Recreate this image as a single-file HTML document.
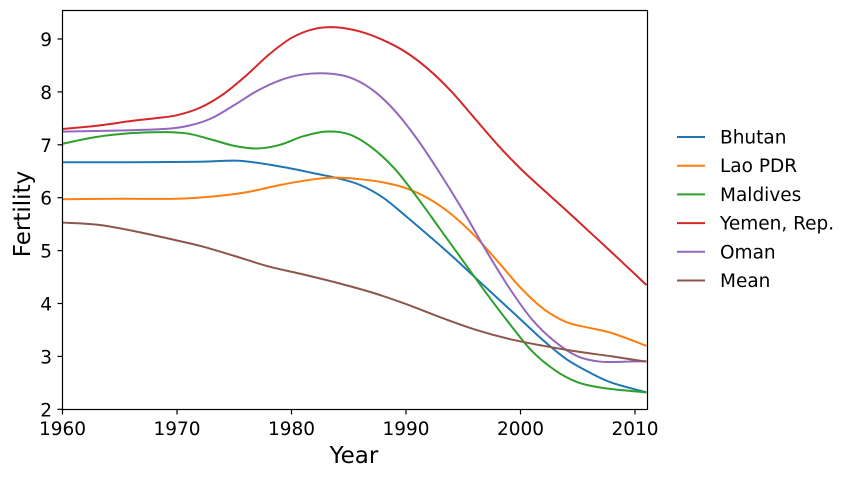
<!DOCTYPE html>
<html><head><meta charset="utf-8"><style>
body{margin:0;background:#fff}
svg{display:block;font-family:"DejaVu Sans","Liberation Sans",sans-serif}
</style></head><body>
<svg id="s" width="856" height="478" xmlns="http://www.w3.org/2000/svg">
<rect width="856" height="478" fill="#fff"/>
<g id="lines" fill="none" stroke-width="2" stroke-linejoin="round"></g>
<rect x="62.5" y="10.5" width="585" height="399" fill="none" stroke="#000" stroke-width="1.2"/>
<g id="ticks" stroke="#000" stroke-width="1.2"></g>
<g id="tl" font-size="18.5" fill="#000"></g>
<text x="354" y="463" font-size="23" text-anchor="middle">Year</text>
<text transform="translate(30,214) rotate(-90)" font-size="23" text-anchor="middle">Fertility</text>
<g id="leg" font-size="18.5"></g>
</svg>
<script>
const X=y=>62.5+(y-1960)*11.45, Y=v=>409.3-(v-2)*52.9;
const S=[
["Bhutan","#1f77b4",[[1960,6.67],[1966,6.67],[1972,6.68],[1975,6.7],[1977,6.66],[1980,6.55],[1982,6.46],[1984,6.37],[1986,6.24],[1988,6.0],[1990,5.65],[1992,5.28],[1994,4.9],[1996,4.5],[1998,4.1],[2000,3.7],[2002,3.3],[2004,2.95],[2006,2.7],[2008,2.5],[2011,2.32]]],
["Lao PDR","#ff7f0e",[[1960,5.97],[1965,5.98],[1970,5.98],[1973,6.02],[1976,6.1],[1979,6.24],[1982,6.35],[1984,6.38],[1986,6.35],[1988,6.29],[1990,6.18],[1992,5.98],[1994,5.68],[1996,5.28],[1998,4.8],[2000,4.3],[2002,3.9],[2004,3.65],[2006,3.54],[2008,3.44],[2011,3.2]]],
["Maldives","#2ca02c",[[1960,7.02],[1963,7.15],[1966,7.22],[1969,7.24],[1971,7.21],[1973,7.1],[1975,6.98],[1977,6.93],[1979,7.0],[1981,7.16],[1983,7.25],[1985,7.2],[1987,6.95],[1989,6.55],[1991,6.0],[1993,5.4],[1995,4.8],[1997,4.2],[1999,3.63],[2001,3.1],[2003,2.74],[2005,2.51],[2007,2.41],[2009,2.36],[2011,2.32]]],
["Yemen, Rep.","#d62728",[[1960,7.3],[1963,7.36],[1966,7.45],[1968,7.5],[1970,7.56],[1972,7.7],[1974,7.95],[1976,8.3],[1978,8.7],[1980,9.02],[1982,9.19],[1984,9.22],[1986,9.14],[1988,8.98],[1990,8.75],[1992,8.42],[1994,8.0],[1996,7.5],[1998,7.0],[2000,6.55],[2002,6.15],[2004,5.76],[2006,5.36],[2008,4.96],[2011,4.35]]],
["Oman","#9467bd",[[1960,7.25],[1965,7.27],[1969,7.3],[1971,7.36],[1973,7.5],[1975,7.75],[1977,8.02],[1979,8.22],[1981,8.33],[1983,8.35],[1985,8.28],[1987,8.05],[1989,7.65],[1991,7.1],[1993,6.45],[1995,5.75],[1997,5.0],[1999,4.3],[2001,3.7],[2003,3.28],[2005,3.0],[2007,2.9],[2009,2.9],[2011,2.91]]],
["Mean","#8c564b",[[1960,5.53],[1963,5.49],[1966,5.38],[1969,5.24],[1972,5.09],[1975,4.9],[1978,4.7],[1981,4.55],[1984,4.39],[1987,4.21],[1990,3.99],[1993,3.74],[1996,3.51],[1999,3.33],[2002,3.2],[2005,3.09],[2008,3.0],[2011,2.9]]]];
const NS="http://www.w3.org/2000/svg";
function el(t,a,p,txt){const e=document.createElementNS(NS,t);for(const k in a)e.setAttribute(k,a[k]);if(txt)e.textContent=txt;document.getElementById(p).appendChild(e);}
S.forEach(([n,c,pts],i)=>{
 const P=pts.map(([x,v])=>[X(x),Y(v)]);let d="M"+P[0][0]+","+P[0][1];
 for(let k=0;k<P.length-1;k++){const p0=P[k-1]||P[k],p1=P[k],p2=P[k+1],p3=P[k+2]||P[k+1];
  d+=` C${p1[0]+(p2[0]-p0[0])/6},${p1[1]+(p2[1]-p0[1])/6} ${p2[0]-(p3[0]-p1[0])/6},${p2[1]-(p3[1]-p1[1])/6} ${p2[0]},${p2[1]}`;}
 el("path",{d,stroke:c},"lines");
 const ly=137+i*28.7;
 el("line",{x1:677,x2:705,y1:ly,y2:ly,stroke:c,"stroke-width":2},"leg");
 el("text",{x:720,y:ly+6.5},"leg",n);
});
for(let v=2;v<=9;v++){const y=Y(v);el("line",{x1:57.5,x2:62.5,y1:y,y2:y},"ticks");el("text",{x:52,y:y+7,"text-anchor":"end"},"tl",String(v));}
for(let yr=1960;yr<=2010;yr+=10){const x=X(yr);el("line",{x1:x,x2:x,y1:409.5,y2:414.5},"ticks");el("text",{x:x,y:435,"text-anchor":"middle"},"tl",String(yr));}
</script>
</body></html>
